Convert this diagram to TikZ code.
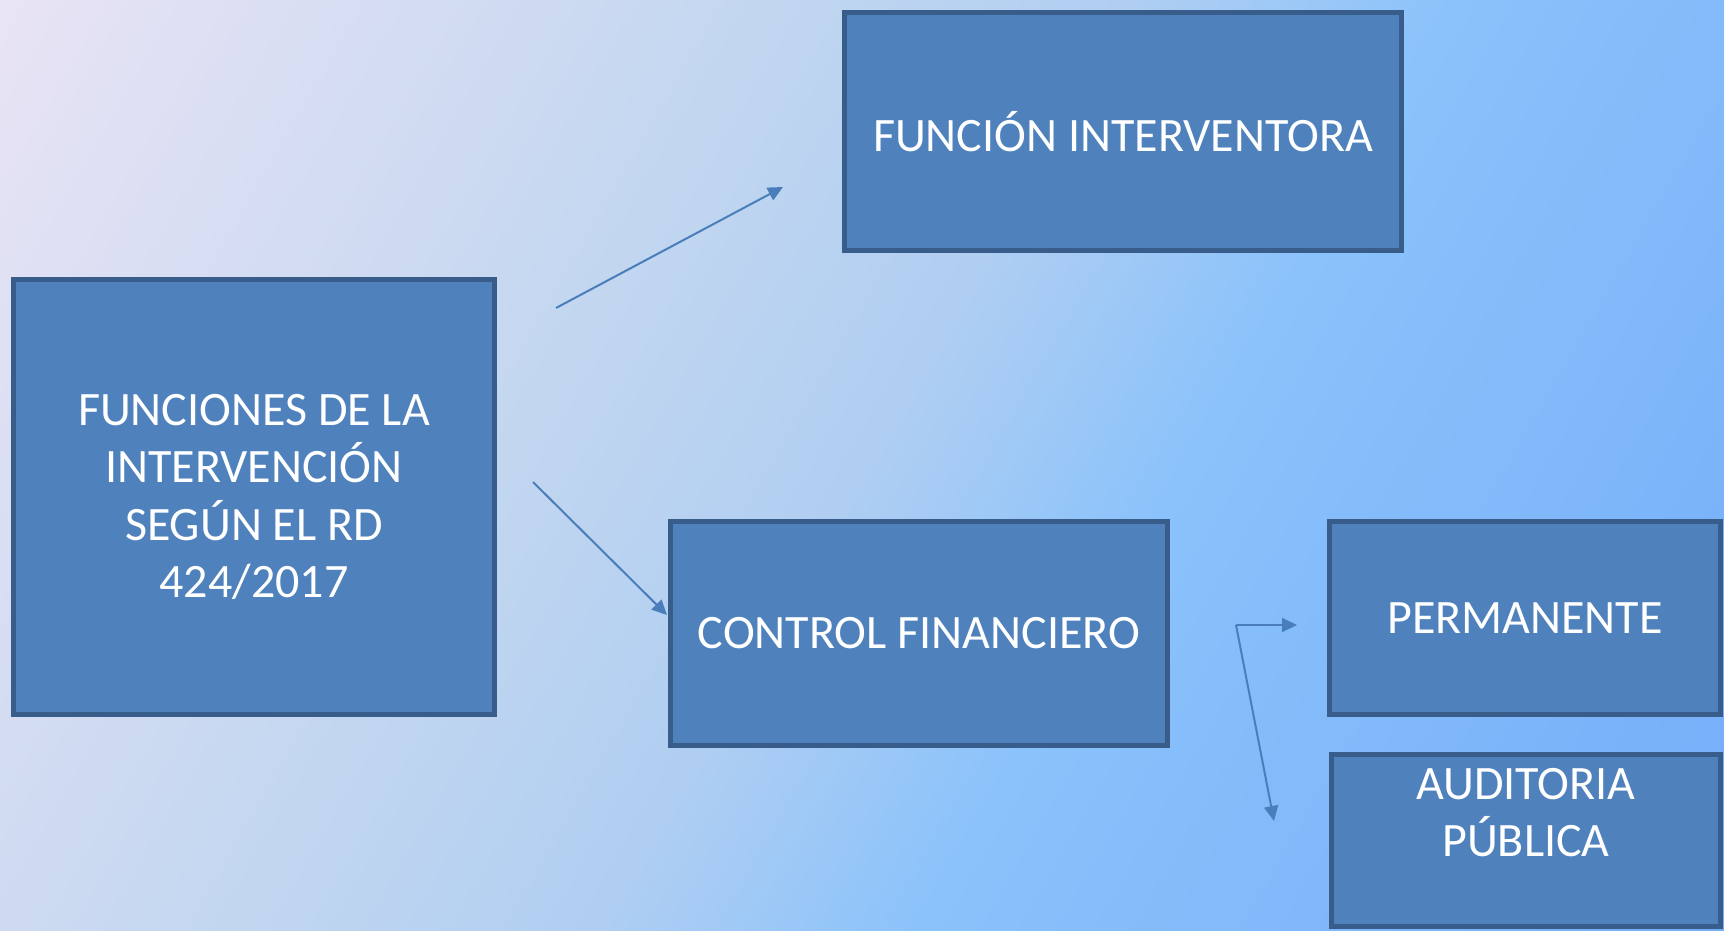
\documentclass[tikz,border=0pt]{standalone}
\usepackage{fontspec}
\setmainfont{Carlito}
\usetikzlibrary{arrows.meta}
\definecolor{boxfill}{HTML}{4F81BD}
\definecolor{boxline}{HTML}{385D8A}
\definecolor{arrowcol}{HTML}{4A7EBB}
\definecolor{bga}{HTML}{EAE4F5}
\definecolor{bgb}{HTML}{BFD5F0}
\definecolor{bgc}{HTML}{B0CEF2}
\definecolor{bgd}{HTML}{8AC2FB}
\definecolor{bge}{HTML}{74ACF9}
\pgfdeclarehorizontalshading{bgshade}{100bp}{color(0bp)=(bga); color(15bp)=(bga); color(41bp)=(bgb); color(50bp)=(bgc); color(60bp)=(bgd); color(85bp)=(bge); color(100bp)=(bge)}
\begin{document}
\begin{tikzpicture}[x=1pt,y=-1pt,
  box/.style={draw=boxline, line width=5.5pt, fill=boxfill, inner sep=0pt},
  lbl/.style={text=white, align=center, font=\fontsize{48}{57.5}\selectfont, inner sep=0pt},
  conn/.style={draw=arrowcol, line width=2pt, -{Triangle[length=15pt,width=14pt]}}]
\shade[shading=bgshade, shading angle=-30] (0,0) rectangle (1724,931);
\useasboundingbox (0,0) rectangle (1724,931);
% boxes
\node[box, lbl, minimum width=481pt, minimum height=435pt] (fun) at (254,497)
  {FUNCIONES DE LA\\INTERVENCIÓN\\SEGÚN EL RD\\424/2017};
\node[box, lbl, minimum width=557pt, minimum height=238pt] (fi) at (1123,131.5)
  {FUNCIÓN INTERVENTORA};
\node[box, lbl, minimum width=497pt, minimum height=224pt] (cf) at (919,633.5)
  {CONTROL FINANCIERO};
\node[box, lbl, minimum width=391pt, minimum height=193pt] (pe) at (1525,618)
  {PERMANENTE};
\node[box, minimum width=389pt, minimum height=172pt] (au) at (1526,840.5) {};
\node[lbl] (autext) at ([yshift=28pt]au.center) {AUDITORIA\\PÚBLICA};
% connectors
\coordinate (a1s) at (556,308);
\coordinate (a1e) at (783,187);
\coordinate (a2s) at (533,482);
\coordinate (a2e) at (667,615);
\coordinate (a3c) at (1236,625);
\coordinate (a3r) at (1297,625);
\coordinate (a3d) at (1274,821);
\draw[conn] (a1s) -- (a1e);
\draw[conn] (a2s) -- (a2e);
\draw[conn] (a3c) -- (a3r);
\draw[conn] (a3c) -- (a3d);
\end{tikzpicture}
\end{document}
